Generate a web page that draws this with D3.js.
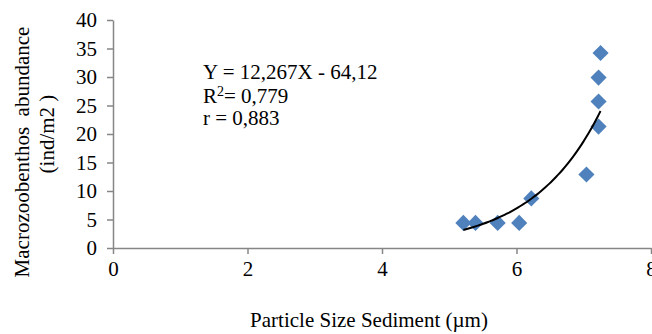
<!DOCTYPE html>
<html>
<head>
<meta charset="utf-8">
<script src="https://cdn.jsdelivr.net/npm/d3@7"></script>
<style>
  html, body { margin: 0; padding: 0; background: #fff; }
  svg { display: block; font-family: "Liberation Serif", "Times New Roman", serif; }
</style>
</head>
<body>
<svg id="chart" width="652" height="334"></svg>
<script>
// data
const particleSize = [5.21, 5.39, 5.72, 6.04, 6.22, 7.04, 7.22, 7.22, 7.22, 7.25];
const abundance    = [4.4, 4.4, 4.4, 4.4, 8.7, 12.9, 21.3, 25.7, 29.9, 34.2];
const xTicks = [0, 2, 4, 6, 8];
const yTicks = [0, 5, 10, 15, 20, 25, 30, 35, 40];
const equationLines = ["Y = 12,267X - 64,12", "R2 = 0,779", "r = 0,883"];

const AXIS_COLOR = "#868686";
const MARKER_COLOR = "#4F81BD";

const svg = d3.select("#chart");

const x = d3.scaleLinear().domain([0, 8]).range([113, 651]);
const y = d3.scaleLinear().domain([0, 40]).range([248, 20]);

// y axis
const yAxis = svg.append("g")
    .attr("transform", "translate(" + x(0) + ",0)")
    .call(d3.axisLeft(y).tickValues(yTicks).tickSize(6).tickSizeOuter(0).tickPadding(10));

// x axis
const xAxis = svg.append("g")
    .attr("transform", "translate(0," + y(0) + ")")
    .call(d3.axisBottom(x).tickValues(xTicks).tickSize(6).tickSizeOuter(0).tickPadding(7));

[yAxis, xAxis].forEach(g => {
    g.select(".domain").attr("stroke", AXIS_COLOR).attr("stroke-width", 1.5);
    g.selectAll(".tick line").attr("stroke", AXIS_COLOR).attr("stroke-width", 1.5);
    g.selectAll(".tick text")
        .attr("fill", "#000")
        .style("font-family", "Liberation Serif")
        .style("font-size", "21px");
});

// axis titles
svg.append("text")
    .attr("x", 369)
    .attr("y", 327)
    .attr("text-anchor", "middle")
    .style("font-size", "21px")
    .text("Particle Size Sediment (\u00b5m)");

svg.append("text")
    .attr("transform", "translate(29,152) rotate(-90)")
    .attr("text-anchor", "middle")
    .style("font-size", "21px")
    .style("white-space", "pre")
    .attr("xml:space", "preserve")
    .text("Macrozoobenthos  abundance");

svg.append("text")
    .attr("transform", "translate(54,134) rotate(-90)")
    .attr("text-anchor", "middle")
    .style("font-size", "21px")
    .text("(ind/m2 )");

// exponential trendline fitted to the points (least squares on ln y)
const pts = particleSize.map((d, i) => ({x: d, y: abundance[i]}));
const mx = d3.mean(pts, d => d.x);
const my = d3.mean(pts, d => Math.log(d.y));
const b = d3.sum(pts, d => (d.x - mx) * (Math.log(d.y) - my)) / d3.sum(pts, d => (d.x - mx) ** 2);
const a = Math.exp(my - b * mx);
const [x0, x1] = d3.extent(particleSize);
const trend = d3.range(0, 41).map(i => {
    const xv = x0 + (x1 - x0) * i / 40;
    return {x: xv, y: a * Math.exp(b * xv)};
});

// markers
const diamond = d3.symbol().type(d3.symbolSquare).size(130);
svg.append("g")
    .selectAll("path")
    .data(pts)
    .enter()
    .append("path")
    .attr("d", diamond)
    .attr("transform", d => "translate(" + x(d.x) + "," + y(d.y) + ") rotate(45)")
    .attr("fill", MARKER_COLOR);

svg.append("path")
    .datum(trend)
    .attr("fill", "none")
    .attr("stroke", "#000")
    .attr("stroke-width", 2)
    .attr("d", d3.line().x(d => x(d.x)).y(d => y(d.y)).curve(d3.curveMonotoneX));

// equation box
const eq = svg.append("text")
    .attr("x", 203)
    .style("font-size", "21px");
eq.append("tspan").attr("x", 203).attr("y", 79).text(equationLines[0]);
const r2 = eq.append("tspan").attr("x", 203).attr("y", 103);
r2.append("tspan").text("R");
r2.append("tspan").attr("dy", -7).style("font-size", "14px").text("2");
r2.append("tspan").attr("dy", 7).text("= 0,779");
eq.append("tspan").attr("x", 203).attr("y", 125).text(equationLines[2]);
</script>
</body>
</html>
